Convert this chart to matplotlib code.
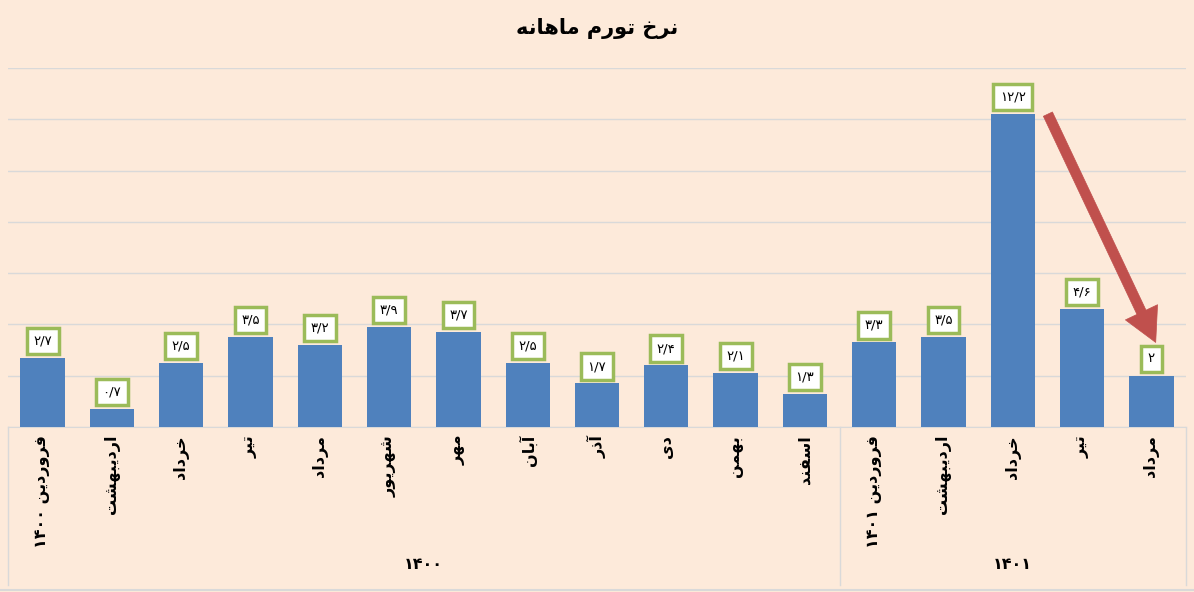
import numpy as np
import matplotlib.pyplot as plt
from matplotlib import font_manager, ft2font
from matplotlib.transforms import blended_transform_factory

months = ['فروردین ۱۴۰۰', 'اردیبهشت', 'خرداد', 'تیر', 'مرداد', 'شهریور', 'مهر', 'آبان',
          'آذر', 'دی', 'بهمن', 'اسفند',
          'فروردین ۱۴۰۱', 'اردیبهشت', 'خرداد', 'تیر', 'مرداد']
values = [2.7, 0.7, 2.5, 3.5, 3.2, 3.9, 3.7, 2.5, 1.7, 2.4, 2.1, 1.3,
          3.3, 3.5, 12.2, 4.6, 2.0]
value_labels = ['۲/۷', '۰/۷', '۲/۵', '۳/۵', '۳/۲', '۳/۹', '۳/۷', '۲/۵', '۱/۷', '۲/۴', '۲/۱', '۱/۳',
                '۳/۳', '۳/۵', '۱۲/۲', '۴/۶', '۲']
years = ['۱۴۰۰', '۱۴۰۱']
year_sizes = [12, 5]
title = 'نرخ تورم ماهانه'

# presentation forms: isolated, final, initial, medial
FORMS = {
    'ا': (0xFE8D, 0xFE8E, None, None), 'آ': (0xFE81, 0xFE82, None, None),
    'ب': (0xFE8F, 0xFE90, 0xFE91, 0xFE92), 'ت': (0xFE95, 0xFE96, 0xFE97, 0xFE98),
    'خ': (0xFEA5, 0xFEA6, 0xFEA7, 0xFEA8), 'د': (0xFEA9, 0xFEAA, None, None),
    'ذ': (0xFEAB, 0xFEAC, None, None), 'ر': (0xFEAD, 0xFEAE, None, None),
    'س': (0xFEB1, 0xFEB2, 0xFEB3, 0xFEB4), 'ش': (0xFEB5, 0xFEB6, 0xFEB7, 0xFEB8),
    'ف': (0xFED1, 0xFED2, 0xFED3, 0xFED4), 'م': (0xFEE1, 0xFEE2, 0xFEE3, 0xFEE4),
    'ن': (0xFEE5, 0xFEE6, 0xFEE7, 0xFEE8), 'ه': (0xFEE9, 0xFEEA, 0xFEEB, 0xFEEC),
    'و': (0xFEED, 0xFEEE, None, None), 'ی': (0xFBFC, 0xFBFD, 0xFBFE, 0xFBFF),
}

# pick a bold font that has the arabic glyphs, else regular
font_path = font_manager.findfont(font_manager.FontProperties(family='DejaVu Sans', weight='bold'))
weight = 'bold'
ft = ft2font.FT2Font(font_path)
if ft.get_char_index(0xFEB5) == 0:
    weight = 'normal'
    ft = ft2font.FT2Font(font_manager.findfont(font_manager.FontProperties(family='DejaVu Sans')))
if ft.get_char_index(0xFBFC) == 0:
    FORMS['ی'] = (0xFEEF, 0xFEF0, 0xFEF3, 0xFEF4)


def shape(s):
    out = []
    for i, ch in enumerate(s):
        if ch not in FORMS:
            out.append(ch)
            continue
        prev = s[i - 1] if i > 0 else ''
        nxt = s[i + 1] if i + 1 < len(s) else ''
        join_prev = prev in FORMS and FORMS[prev][2] is not None
        join_next = nxt in FORMS and FORMS[ch][2] is not None
        f = FORMS[ch]
        if join_prev and join_next:
            out.append(chr(f[3]))
        elif join_prev:
            out.append(chr(f[1]))
        elif join_next:
            out.append(chr(f[2]))
        else:
            out.append(chr(f[0]))
    # visual order: reverse, keep digit runs as they are
    runs, cur, cur_digit = [], '', None
    for ch in out:
        d = '\u06F0' <= ch <= '\u06F9' or ch == '/'
        if cur and d != cur_digit:
            runs.append((cur, cur_digit))
            cur = ''
        cur += ch
        cur_digit = d
    if cur:
        runs.append((cur, cur_digit))
    return ''.join(r if d else r[::-1] for r, d in runs[::-1])


plt.rcParams['font.family'] = ['DejaVu Sans']
bg = '#FDEADA'
fig = plt.figure(figsize=(11.94, 5.92), dpi=100, facecolor=bg)
ax = fig.add_axes([0.0067, 0.2787, 0.9866, 0.6064])
ax.set_facecolor(bg)

x = np.arange(len(values))
ax.bar(x, values, width=0.64, color='#4F81BD', zorder=3)
ax.set_xlim(-0.5, len(values) - 0.5)
ax.set_ylim(0, 14)
ax.set_yticks(np.arange(0, 15, 2))
ax.yaxis.grid(True, color='#D9D9D9', lw=1)
ax.set_axisbelow(True)
ax.tick_params(left=False, labelleft=False, bottom=False, labelbottom=False)
for sp in ['top', 'right', 'left']:
    ax.spines[sp].set_visible(False)
ax.spines['bottom'].set_color('#D9D9D9')

for i, (v, lab) in enumerate(zip(values, value_labels)):
    ax.annotate(lab, (i, v), xytext=(0, 7.5), textcoords='offset points', ha='center', va='bottom',
                fontsize=9.5, zorder=5,
                bbox=dict(boxstyle='square,pad=0.5', fc='white', ec='#9BBB59', lw=2.5))

trans = blended_transform_factory(ax.transData, ax.transAxes)
for i, m in enumerate(months):
    ax.text(i, -0.022, shape(m), transform=trans, rotation=90, ha='center', va='top',
            fontsize=11.5, fontweight=weight)

edges = np.concatenate([[0], np.cumsum(year_sizes)]) - 0.5
for e in edges:
    ax.plot([e, e], [0, -0.44], transform=trans, color='#D9D9D9', lw=1, clip_on=False)
for k, yr in enumerate(years):
    ax.text((edges[k] + edges[k + 1]) / 2, -0.384, yr, transform=trans, ha='center', va='center',
            fontsize=11.5, fontweight=weight)

fig.text(0.5, 0.952, shape(title), ha='center', va='center', fontsize=15, fontweight=weight)
fig.add_artist(plt.Line2D([0, 1], [0.003, 0.003], color='#D9D9D9', lw=1.5))

# arrow from the jump down to the last month
ax.annotate('', xy=(16.08, 3.2), xytext=(14.49, 12.3),
            arrowprops=dict(arrowstyle='simple,head_length=1.5,head_width=1.6,tail_width=0.45',
                            fc='#C0504D', ec='#C0504D', lw=0.5, mutation_scale=16),
            zorder=6)

plt.savefig('out.png', dpi=100, facecolor=bg)
